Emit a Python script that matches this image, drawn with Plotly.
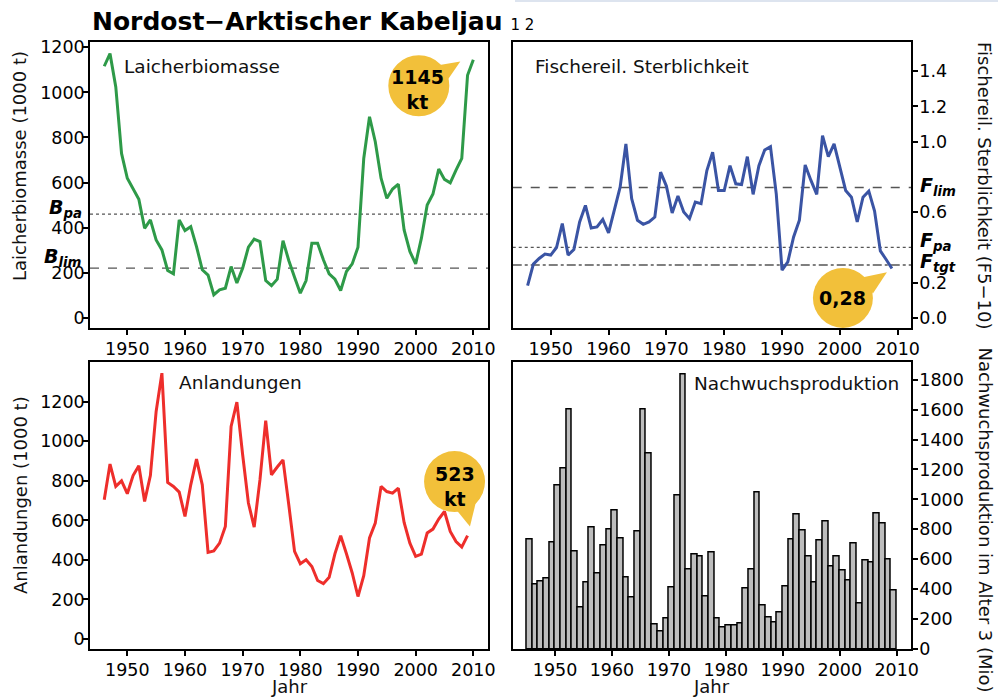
import plotly.graph_objects as go

# ---------------- data ----------------
years_ssb = list(range(1946, 2011))
ssb = [1116, 1172, 1024, 729, 619, 574, 526, 397, 434, 345,
       301, 210, 195, 434, 387, 404, 316, 213, 189, 102,
       124, 131, 227, 154, 220, 313, 349, 338, 165, 142,
       171, 342, 254, 180, 109, 165, 331, 331, 257, 195,
       171, 121, 205, 239, 313, 707, 892, 781, 619, 530,
       571, 593, 390, 294, 239, 353, 500, 549, 660, 614,
       599, 655, 707, 1076, 1145]

years = list(range(1946, 2010))
fmort = [0.183, 0.305, 0.337, 0.362, 0.356, 0.399, 0.535, 0.356, 0.388, 0.544,
         0.638, 0.510, 0.516, 0.558, 0.482, 0.620, 0.742, 0.987, 0.676, 0.554,
         0.531, 0.544, 0.572, 0.827, 0.748, 0.595, 0.691, 0.601, 0.563, 0.657,
         0.648, 0.836, 0.940, 0.723, 0.723, 0.864, 0.761, 0.757, 0.915, 0.701,
         0.864, 0.953, 0.972, 0.704, 0.271, 0.318, 0.459, 0.554, 0.868, 0.780,
         0.701, 1.034, 0.915, 0.987, 0.859, 0.723, 0.685, 0.544, 0.685, 0.719,
         0.606, 0.380, 0.331, 0.28]

landings = [704, 885, 772, 800, 735, 827, 876, 696, 827, 1151,
            1345, 792, 772, 743, 620, 780, 910, 780, 438, 446,
            485, 569, 1075, 1198, 932, 688, 566, 805, 1105, 831,
            870, 906, 679, 443, 381, 401, 367, 296, 280, 312,
            431, 522, 431, 334, 215, 320, 511, 586, 772, 746,
            738, 763, 590, 485, 418, 429, 536, 556, 607, 645,
            544, 493, 465, 523]

rec_years = list(range(1946, 2011))
recruits = [733, 429, 449, 473, 713, 1093, 1204, 1604, 649, 278,
            444, 811, 502, 691, 798, 927, 736, 478, 344, 787,
            1598, 1307, 167, 116, 202, 411, 1027, 1836, 529, 629,
            620, 353, 647, 204, 142, 156, 156, 171, 404, 531,
            1049, 289, 211, 178, 247, 418, 729, 902, 789, 620,
            444, 722, 853, 553, 616, 524, 458, 707, 304, 589,
            576, 909, 840, 596, 389]

B_pa, B_lim = 460, 220
F_lim, F_pa, F_tgt = 0.74, 0.40, 0.30

xticks = [1950, 1960, 1970, 1980, 1990, 2000, 2010]
ssb_ticks = [0, 200, 400, 600, 800, 1000, 1200]
f_ticks = [0.0, 0.2, 0.6, 1.0, 1.2, 1.4]
land_ticks = [0, 200, 400, 600, 800, 1000, 1200]
rec_ticks = [0, 200, 400, 600, 800, 1000, 1200, 1400, 1600, 1800]

# ---------------- style ----------------
FONT = "DejaVu Sans"
GREEN = "#2E9A48"
BLUE = "#3A54A4"
RED = "#EE2E2B"
BUBBLE = "#F2C03A"
REFC = "#555555"

fig = go.Figure()

fig.add_trace(go.Scatter(x=years_ssb, y=ssb, mode="lines",
                         line=dict(color=GREEN, width=3), xaxis="x", yaxis="y",
                         showlegend=False))
fig.add_trace(go.Scatter(x=years, y=fmort, mode="lines",
                         line=dict(color=BLUE, width=3), xaxis="x2", yaxis="y2",
                         showlegend=False))
fig.add_trace(go.Scatter(x=years, y=landings, mode="lines",
                         line=dict(color=RED, width=3), xaxis="x3", yaxis="y3",
                         showlegend=False))
fig.add_trace(go.Bar(x=rec_years, y=recruits, width=1, offset=-1,
                     marker=dict(color="#BDBDBD", line=dict(color="black", width=1.5)),
                     xaxis="x4", yaxis="y4", showlegend=False))

tickfont = dict(family=FONT, size=17.5, color="black")
common_x = dict(tickvals=xticks, ticks="outside", ticklen=5, tickwidth=1.5,
                tickcolor="black", showline=True, linecolor="black", linewidth=1.5,
                mirror=True, showgrid=False, zeroline=False, tickfont=tickfont,
                ticklabelstandoff=-1)
common_y = dict(ticks="outside", ticklen=5, tickwidth=1.5, tickcolor="black",
                showline=True, linecolor="black", linewidth=1.5, mirror=True,
                showgrid=False, zeroline=False, tickfont=tickfont)

LD = [0, 0.4848]
RD = [0.5149, 1]
TD = [0.5288, 1]
BD = [0, 0.472]

fig.update_layout(
    width=998, height=697,
    margin=dict(l=90, r=87, t=42, b=48),
    paper_bgcolor="white", plot_bgcolor="white",
    font=dict(family=FONT, color="black"),
    xaxis=dict(domain=LD, anchor="y", range=[1943.53, 2012.55], **common_x),
    yaxis=dict(domain=TD, anchor="x", range=[-45.6, 1223.6], tickvals=ssb_ticks,
               ticklabelstandoff=-5, **common_y),
    xaxis2=dict(domain=RD, anchor="y2", range=[1943.43, 2012.3], **common_x),
    yaxis2=dict(domain=TD, anchor="x2", side="right", range=[-0.058, 1.566],
                tickvals=f_ticks, tickformat=".1f", ticklabelstandoff=-2, **common_y),
    xaxis3=dict(domain=LD, anchor="y3", range=[1943.53, 2012.55], **common_x),
    yaxis3=dict(domain=BD, anchor="x3", range=[-50.6, 1398.8], tickvals=land_ticks,
                ticklabelstandoff=-5, **common_y),
    xaxis4=dict(domain=RD, anchor="y4", range=[1942.57, 2012.51], **common_x),
    yaxis4=dict(domain=BD, anchor="x4", side="right", range=[0, 1915],
                tickvals=rec_ticks, ticklabelstandoff=-2, **common_y),
    bargap=0,
)

shapes = []
# reference lines
def hline(xr, yr, val, dash):
    return dict(type="line", xref=xr + " domain", yref=yr, x0=0, x1=1, y0=val, y1=val,
                line=dict(color=REFC, width=1.4, dash=dash), layer="below")

shapes.append(hline("x", "y", B_pa, "dot"))
shapes.append(hline("x", "y", B_lim, "dash"))
shapes.append(hline("x2", "y2", F_lim, "dash"))
shapes.append(hline("x2", "y2", F_pa, "dot"))
shapes.append(hline("x2", "y2", F_tgt, "dashdot"))

# speech bubbles (pixel offsets relative to the last data point)
def bubble(xr, yr, xa, ya, cx, cy, r, tail):
    s = [dict(type="circle", xref=xr, yref=yr, xsizemode="pixel", ysizemode="pixel",
              xanchor=xa, yanchor=ya, x0=cx - r, x1=cx + r, y0=cy - r, y1=cy + r,
              fillcolor=BUBBLE, line=dict(width=0), layer="above")]
    path = "M {} {} L {} {} L {} {} Z".format(*[v for p in tail for v in p])
    s.append(dict(type="path", xref=xr, yref=yr, xsizemode="pixel", ysizemode="pixel",
                  xanchor=xa, yanchor=ya, path=path,
                  fillcolor=BUBBLE, line=dict(width=0), layer="above"))
    return s

shapes += bubble("x", "y", years_ssb[-1], ssb[-1], -54.5, -26, 30.5,
                 [(-38, -6), (-13, -1.7), (-27, -22)])
shapes += bubble("x2", "y2", years[-1], fmort[-1], -49, -29.4, 30,
                 [(-30, -9), (-5, -3.8), (-19, -25)])
shapes += bubble("x3", "y3", years[-1], landings[-1], -13, 54, 30.5,
                 [(-13, 28), (2.4, 9.2), (9, 36)])

# faint line at the very top
shapes.append(dict(type="line", xref="paper", yref="paper",
                   x0=(515 - 90) / 821, x1=(998 - 90) / 821,
                   y0=(649 - 1) / 607, y1=(649 - 1) / 607,
                   line=dict(color="#DDE4EF", width=2)))
fig.update_layout(shapes=shapes)

ann = []
# title
ann.append(dict(xref="paper", yref="paper", x=0, y=(649 - 22) / 607,
                xanchor="left", yanchor="middle", showarrow=False,
                text="<b>Nordost\u2212Arktischer Kabeljau</b> <span style='font-size:15px'>1 2</span>",
                font=dict(family=FONT, size=25, color="black")))
# panel labels
pl = dict(showarrow=False, xanchor="left", yanchor="middle",
          font=dict(family=FONT, size=18.5, color="#111111"))
ann.append(dict(xref="x domain", yref="y domain", x=0.0804, y=0.916, text="Laicherbiomasse", **pl))
ann.append(dict(xref="x2 domain", yref="y2 domain", x=0.0507, y=0.916, text="Fischereil. Sterblichkeit", **pl))
ann.append(dict(xref="x3 domain", yref="y3 domain", x=0.2186, y=0.930, text="Anlandungen", **pl))
ann.append(dict(xref="x4 domain", yref="y4 domain", x=0.4504, y=0.927, text="Nachwuchsproduktion", **pl))

# axis titles
tf = dict(family=FONT, size=18, color="#111111")
ann.append(dict(xref="paper", yref="paper", x=(20 - 90) / 821, y=(649 - 166) / 607,
                textangle=-90, showarrow=False, xanchor="center", yanchor="middle",
                text="Laicherbiomasse (1000 t)", font=tf))
ann.append(dict(xref="paper", yref="paper", x=(20 - 90) / 821, y=(649 - 495) / 607,
                textangle=-90, showarrow=False, xanchor="center", yanchor="middle",
                text="Anlandungen (1000 t)", font=tf))
ann.append(dict(xref="paper", yref="paper", x=(985 - 90) / 821, y=(649 - 40) / 607,
                textangle=90, showarrow=False, xanchor="center", yanchor="top",
                text="Fischereil. Sterblichkeit (F5\u221210)", font=tf))
ann.append(dict(xref="paper", yref="paper", x=(985 - 90) / 821, y=(649 - 345) / 607,
                textangle=90, showarrow=False, xanchor="center", yanchor="top",
                text="Nachwuchsproduktion im Alter 3 (Mio)", font=tf))
ann.append(dict(xref="x3 domain", yref="paper", x=0.5, y=(649 - 686) / 607,
                showarrow=False, xanchor="center", yanchor="middle", text="Jahr", font=tf))
ann.append(dict(xref="x4 domain", yref="paper", x=0.5, y=(649 - 686) / 607,
                showarrow=False, xanchor="center", yanchor="middle", text="Jahr", font=tf))

# reference point labels
rf = dict(family=FONT, size=19, color="black")
ann.append(dict(xref="x domain", yref="y", x=0, y=B_pa, xshift=-6, yshift=6,
                xanchor="right", yanchor="middle", showarrow=False,
                text="<b><i>B</i></b><sub><b><i>pa</i></b></sub>", font=rf))
ann.append(dict(xref="x domain", yref="y", x=0, y=B_lim, xshift=-6, yshift=11,
                xanchor="right", yanchor="middle", showarrow=False,
                text="<b><i>B</i></b><sub><b><i>lim</i></b></sub>", font=rf))
ann.append(dict(xref="x2 domain", yref="y2", x=1, y=F_lim, xshift=7, yshift=1,
                xanchor="left", yanchor="middle", showarrow=False,
                text="<b><i>F</i></b><sub><b><i>lim</i></b></sub>", font=rf))
ann.append(dict(xref="x2 domain", yref="y2", x=1, y=F_pa, xshift=7, yshift=6,
                xanchor="left", yanchor="middle", showarrow=False,
                text="<b><i>F</i></b><sub><b><i>pa</i></b></sub>", font=rf))
ann.append(dict(xref="x2 domain", yref="y2", x=1, y=F_tgt, xshift=7, yshift=2,
                xanchor="left", yanchor="middle", showarrow=False,
                text="<b><i>F</i></b><sub><b><i>tgt</i></b></sub>", font=rf))

# bubble texts
bf = dict(family=FONT, size=19, color="black")
ann.append(dict(xref="x", yref="y", x=years_ssb[-1], y=ssb[-1], xshift=-56, yshift=-30,
                showarrow=False, text="<b>{}<br>kt</b>".format(ssb[-1]), font=bf))
ann.append(dict(xref="x2", yref="y2", x=years[-1], y=fmort[-1], xshift=-49, yshift=-29.4,
                showarrow=False, text="<b>{}</b>".format(("%.2f" % fmort[-1]).replace(".", ",")), font=bf))
ann.append(dict(xref="x3", yref="y3", x=years[-1], y=landings[-1], xshift=-12.6, yshift=49,
                showarrow=False, text="<b>{}<br>kt</b>".format(landings[-1]), font=bf))

fig.update_layout(annotations=ann)

fig.write_html("out.html", config={"displayModeBar": False},
               post_script="document.body.style.margin='0';document.body.style.overflow='hidden';")
